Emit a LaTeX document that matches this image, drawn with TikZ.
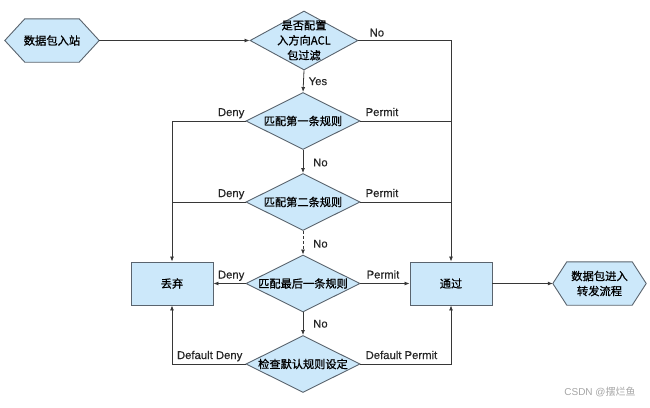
\documentclass[tikz,border=0pt]{standalone}
\usepackage{fontspec}
\setmainfont{Liberation Sans}
\newfontfamily\cjk{Noto Sans CJK SC}[FakeBold=0.8]
\newfontfamily\labfont{Liberation Sans}[FakeBold=0.4]
\newfontfamily\cjkplain{Noto Sans CJK SC}
\usetikzlibrary{shapes.geometric,arrows.meta,backgrounds,calc}
\definecolor{fillblue}{RGB}{204,232,250}
\definecolor{edgegray}{RGB}{90,100,110}
\definecolor{linegray}{RGB}{55,55,55}
\definecolor{wmgray}{RGB}{165,165,165}
\begin{document}
\begin{tikzpicture}[x=1pt,y=-1pt,
  dia/.style={diamond, draw=edgegray, fill=fillblue, line width=0.9pt, inner sep=0pt, minimum width=114pt, minimum height=57pt},
  box/.style={rectangle, draw=edgegray, fill=fillblue, line width=0.9pt, inner sep=0pt, minimum width=82pt, minimum height=43pt, font=\cjk\fontsize{11.2}{15}\selectfont},
  hexnode/.style={rectangle, inner sep=0pt, minimum height=43pt, align=center, font=\cjk\fontsize{11.3}{15}\selectfont},
  hexdraw/.style={draw=edgegray, fill=fillblue, line width=0.9pt, line join=miter},
  txt/.style={font=\cjk\fontsize{11.2}{15}\selectfont, align=center, inner sep=0pt},
  lab/.style={font=\labfont\fontsize{11.3}{13}\selectfont, inner sep=0pt, text=black!85},
  conn/.style={draw=linegray, line width=0.8pt},
  arr/.style={conn, -{Latex[length=5pt,width=4pt]}}
]
\useasboundingbox (0,0) rectangle (650,407);

% nodes
\node[hexnode, minimum width=94pt] (s) at (52,40.5) {数据包入站};
\node[dia, minimum width=108pt, minimum height=59pt] (d1) at (304,40.5) {};
\node[txt] (d1t) at (d1) {是否配置\\入方向ACL\\包过滤};
\node[dia] (d2) at (303,121) {};
\node[txt] (d2t) at (d2) {匹配第一条规则};
\node[dia] (d3) at (303,202) {};
\node[txt] (d3t) at (d3) {匹配第二条规则};
\node[dia] (d4) at (303,283.5) {};
\node[txt] (d4t) at (d4) {匹配最后一条规则};
\node[dia] (d5) at (303,364) {};
\node[txt] (d5t) at (d5) {检查默认规则设定};
\node[box] (drop) at (172,283.5) {丢弃};
\node[box] (pass) at (451,283.5) {通过};
\node[hexnode, minimum width=93pt] (e) at (599.5,283.5) {数据包进入\\转发流程};

\begin{scope}[on background layer]
\filldraw[hexdraw] ($(s.north west)+(20,0)$) -- ($(s.north east)+(-20,0)$) -- (s.east) -- ($(s.south east)+(-20,0)$) -- ($(s.south west)+(20,0)$) -- (s.west) -- cycle;
\filldraw[hexdraw] ($(e.north west)+(14,0)$) -- ($(e.north east)+(-14,0)$) -- (e.east) -- ($(e.south east)+(-14,0)$) -- ($(e.south west)+(14,0)$) -- (e.west) -- cycle;
\end{scope}

% connectors
\draw[arr] (s.east) -- (d1.west);
\draw[arr] (d1.east) -| (pass.north);
\draw[arr] (d1.south) -- (d2.north);
\draw[arr] (d2.west) -| (drop.north);
\draw[conn] (d2.east) -- (d2.east -| pass.north);
\draw[arr] (d2.south) -- (d3.north);
\draw[conn] (d3.west) -- (d3.west -| drop.north);
\draw[conn] (d3.east) -- (d3.east -| pass.north);
\draw[arr, dash pattern=on 3pt off 2pt] (d3.south) -- (d4.north);
\draw[arr] (d4.west) -- (drop.east);
\draw[arr] (d4.east) -- (pass.west);
\draw[arr] (d4.south) -- (d5.north);
\draw[arr] (d5.west) -| (drop.south);
\draw[arr] (d5.east) -| (pass.south);
\draw[arr] (pass.east) -- (e.west);

% labels
\node[lab, anchor=base west] (l1) at ($(d1.east)+(11,-4)$) {No};
\node[lab, anchor=west] (l2) at ($(d1.south)!0.5!(d2.north)+(5,0)$) {Yes};
\node[lab, anchor=base east] (l3) at ($(d2.west)+(-1,-5)$) {Deny};
\node[lab, anchor=base west] (l4) at ($(d2.east)+(5,-5)$) {Permit};
\node[lab, anchor=west] (l5) at ($(d2.south)!0.5!(d3.north)+(10,1)$) {No};
\node[lab, anchor=base east] (l6) at ($(d3.west)+(-1,-5)$) {Deny};
\node[lab, anchor=base west] (l7) at ($(d3.east)+(5,-5)$) {Permit};
\node[lab, anchor=west] (l8) at ($(d3.south)!0.5!(d4.north)+(10,1)$) {No};
\node[lab, anchor=base east] (l9) at ($(d4.west)+(-1,-5)$) {Deny};
\node[lab, anchor=base west] (l10) at ($(d4.east)+(6,-5)$) {Permit};
\node[lab, anchor=west] (l11) at ($(d4.south)!0.5!(d5.north)+(10,0)$) {No};
\node[lab, anchor=base east] (l12) at ($(d5.west)+(-3,-5)$) {Default Deny};
\node[lab, anchor=base west] (l13) at ($(d5.east)+(5,-5)$) {Default Permit};

% watermark
\node[font=\fontsize{10}{12}\selectfont, text=wmgray, inner sep=0pt] (wm) at (600,392) {CSDN @{\cjkplain 摆烂鱼}};
\end{tikzpicture}
\end{document}
